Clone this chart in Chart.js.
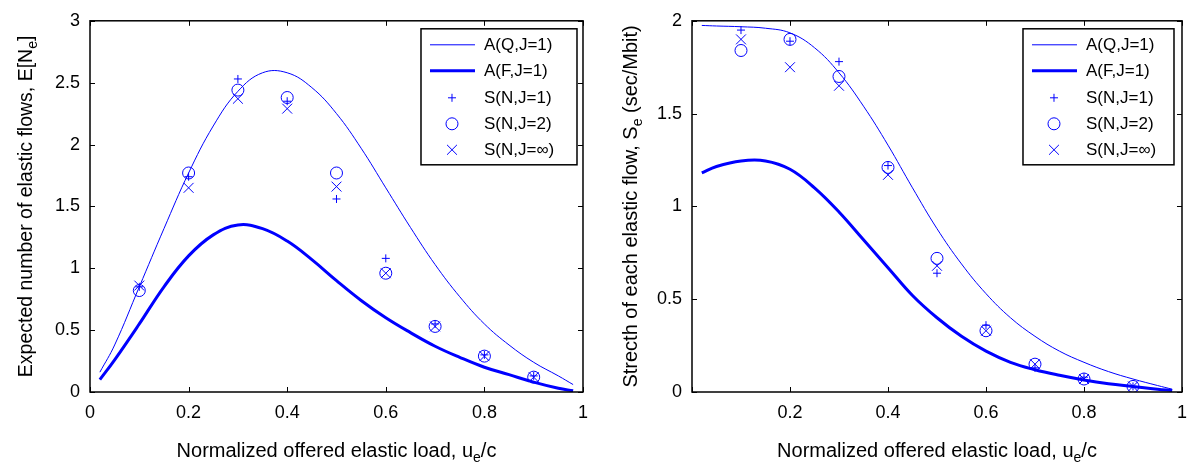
<!DOCTYPE html>
<html><head><meta charset="utf-8">
<script src="https://cdn.jsdelivr.net/npm/chart.js@4/dist/chart.umd.min.js"></script>
<style>
html,body{margin:0;padding:0;background:#fff;}
#wrap{position:relative;width:1197px;height:467px;overflow:hidden;}
#c1{position:absolute;left:0;top:0;}
#c2{position:absolute;left:598px;top:0;}
</style></head><body>
<div id="wrap"><canvas id="c1" width="598" height="467"></canvas><canvas id="c2" width="599" height="467"></canvas></div>
<script>
// ---------- data ----------
const loads = [0.1, 0.2, 0.3, 0.4, 0.5, 0.6, 0.7, 0.8, 0.9];
const curveLoads = [0.02,0.05,0.1,0.15,0.2,0.25,0.3,0.35,0.4,0.45,0.5,0.55,0.6,0.65,0.7,0.75,0.8,0.85,0.9,0.95,0.98];

// left panel: expected number of elastic flows
const flowsAQ = [0.16,0.38,0.85,1.32,1.77,2.15,2.43,2.58,2.58,2.46,2.25,1.97,1.65,1.33,1.03,0.77,0.55,0.38,0.24,0.13,0.06];
const flowsAF = [0.10,0.26,0.55,0.85,1.10,1.27,1.35,1.32,1.22,1.07,0.90,0.74,0.60,0.48,0.37,0.28,0.20,0.14,0.08,0.03,0.01];
const flowsSN1 = [0.85,1.74,2.53,2.35,1.56,1.08,0.55,0.30,0.13];
const flowsSN2 = [0.82,1.77,2.44,2.38,1.77,0.96,0.53,0.29,0.12];
const flowsSNinf = [0.86,1.65,2.37,2.29,1.66,0.96,0.53,0.29,0.12];

// right panel: stretch of each elastic flow
const stretchAQ = [1.975,1.972,1.968,1.96,1.935,1.855,1.72,1.54,1.33,1.10,0.88,0.69,0.53,0.40,0.30,0.22,0.16,0.11,0.07,0.035,0.015];
const stretchAF = [1.18,1.215,1.245,1.245,1.20,1.10,0.97,0.82,0.67,0.52,0.40,0.30,0.22,0.16,0.12,0.09,0.065,0.045,0.03,0.015,0.008];
const stretchSN1 = [1.95,1.89,1.78,1.22,0.64,0.36,0.13,0.08,0.03];
const stretchSN2 = [1.84,1.90,1.70,1.21,0.72,0.33,0.15,0.07,0.03];
const stretchSNinf = [1.90,1.75,1.65,1.17,0.68,0.33,0.15,0.07,0.03];

const seriesLabels = ['A(Q,J=1)', 'A(F,J=1)', 'S(N,J=1)', 'S(N,J=2)', 'S(N,J=\u221E)'];

const xTickValues = [0, 0.2, 0.4, 0.6, 0.8, 1];
const xTickLabelsLeft = ['0', '0.2', '0.4', '0.6', '0.8', '1'];
const xTickLabelsRight = ['', '0.2', '0.4', '0.6', '0.8', '1'];
const yTickValuesLeft = [0, 0.5, 1, 1.5, 2, 2.5, 3];
const yTickLabelsLeft = ['0', '0.5', '1', '1.5', '2', '2.5', '3'];
const yTickValuesRight = [0, 0.5, 1, 1.5, 2];
const yTickLabelsRight = ['0', '0.5', '1', '1.5', '2'];

const xTitle = [['Normalized offered elastic load, u', false], ['e', true], ['/c', false]];
const yTitleLeft = [['Expected number of elastic flows, E[N', false], ['e', true], [']', false]];
const yTitleRight = [['Strecth of each elastic flow, S', false], ['e', true], [' (sec/Mbit)', false]];

// ---------- helpers ----------
const BLUE = '#0000ff';
const FONT = "'Liberation Sans', Arial, Helvetica, sans-serif";

function pts(xs, ys) { return xs.map((x, i) => ({ x: x, y: ys[i] })); }

function drawRich(ctx, parts, size) {
  let total = 0;
  const subSize = Math.round(size * 0.72);
  parts.forEach(p => {
    ctx.font = (p[1] ? subSize : size) + 'px ' + FONT;
    total += ctx.measureText(p[0]).width;
  });
  let x = -total / 2;
  ctx.textBaseline = 'alphabetic';
  ctx.textAlign = 'left';
  parts.forEach(p => {
    ctx.font = (p[1] ? subSize : size) + 'px ' + FONT;
    ctx.fillText(p[0], x, p[1] ? size * 0.35 + 5 : size * 0.35);
    x += ctx.measureText(p[0]).width;
  });
}

function drawMarker(ctx, style, r, x, y) {
  ctx.beginPath();
  if (style === 'circle') {
    ctx.arc(x, y, r, 0, Math.PI * 2);
  } else if (style === 'cross') {
    ctx.moveTo(x - r, y); ctx.lineTo(x + r, y);
    ctx.moveTo(x, y - r); ctx.lineTo(x, y + r);
  } else if (style === 'crossRot') {
    const o = r * Math.SQRT1_2;
    ctx.moveTo(x - o, y - o); ctx.lineTo(x + o, y + o);
    ctx.moveTo(x - o, y + o); ctx.lineTo(x + o, y - o);
  }
  ctx.stroke();
}

const framePlugin = {
  id: 'frameDeco',
  afterDraw(chart) {
    const o = chart.options.plugins.frameDeco;
    const ctx = chart.ctx, a = chart.chartArea;
    const xs = chart.scales.x, ys = chart.scales.y;
    ctx.save();
    ctx.strokeStyle = '#000';
    ctx.lineWidth = 1;
    ctx.beginPath();
    xs.ticks.forEach(t => {
      const px = Math.round(xs.getPixelForValue(t.value)) + 0.5;
      ctx.moveTo(px, a.bottom); ctx.lineTo(px, a.bottom - 5);
      ctx.moveTo(px, a.top); ctx.lineTo(px, a.top + 5);
    });
    ys.ticks.forEach(t => {
      const py = Math.round(ys.getPixelForValue(t.value)) + 0.5;
      ctx.moveTo(a.left, py); ctx.lineTo(a.left + 5, py);
      ctx.moveTo(a.right, py); ctx.lineTo(a.right - 5, py);
    });
    ctx.stroke();
    ctx.lineWidth = 1.5;
    ctx.strokeRect(a.left, a.top, a.right - a.left, a.bottom - a.top);

    // legend box
    const lw = o.legendWidth, lh = 136;
    const lx = a.right - o.legendInset - lw, ly = a.top + 8;
    ctx.fillStyle = '#fff';
    ctx.fillRect(lx, ly, lw, lh);
    ctx.lineWidth = 1.5;
    ctx.strokeStyle = '#000';
    ctx.strokeRect(lx, ly, lw, lh);
    const rowY = [16, 42, 69, 95, 121];
    chart.data.datasets.forEach((ds, i) => {
      const cy = ly + rowY[i];
      ctx.strokeStyle = BLUE;
      ctx.lineWidth = ds.borderWidth;
      if (ds.showLine) {
        ctx.beginPath();
        ctx.moveTo(lx + 9, cy); ctx.lineTo(lx + 54, cy);
        ctx.stroke();
      } else {
        drawMarker(ctx, ds.pointStyle, ds.pointRadius, lx + 31, cy);
      }
      ctx.fillStyle = '#000';
      ctx.font = '17px ' + FONT;
      ctx.textAlign = 'left';
      ctx.textBaseline = 'middle';
      ctx.fillText(ds.label, lx + 63, cy + 1);
    });

    // axis titles
    ctx.fillStyle = '#000';
    ctx.save();
    ctx.translate((a.left + a.right) / 2, 450);
    drawRich(ctx, xTitle, 20);
    ctx.restore();
    ctx.save();
    ctx.translate(o.yTitleX, (a.top + a.bottom) / 2);
    ctx.rotate(-Math.PI / 2);
    drawRich(ctx, o.yTitle, o.yTitleSize);
    ctx.restore();
    ctx.restore();
  }
};

function lineDs(label, data, width) {
  return { label: label, data: pts(curveLoads, data), showLine: true, borderColor: BLUE,
    backgroundColor: BLUE, borderWidth: width, pointRadius: 0, pointHoverRadius: 0,
    tension: 0.4, order: 1 };
}
function pointDs(label, data, style, r) {
  return { label: label, data: pts(loads, data), showLine: false, borderColor: BLUE,
    backgroundColor: 'rgba(0,0,0,0)', borderWidth: 1, pointStyle: style, pointRadius: r,
    pointBorderWidth: 1, pointHoverRadius: r, order: 0 };
}

function makeChart(id, cfg) {
  return new Chart(document.getElementById(id), {
    type: 'scatter',
    data: { datasets: [
      lineDs(seriesLabels[0], cfg.aq, 1),
      lineDs(seriesLabels[1], cfg.af, 3),
      pointDs(seriesLabels[2], cfg.s1, 'cross', 4),
      pointDs(seriesLabels[3], cfg.s2, 'circle', 6),
      pointDs(seriesLabels[4], cfg.sinf, 'crossRot', 7)
    ]},
    options: {
      responsive: false, animation: false, events: [],
      layout: { padding: { top: 14, right: cfg.padRight, left: 0, bottom: 0 } },
      plugins: {
        legend: { display: false }, tooltip: { enabled: false },
        frameDeco: { legendWidth: cfg.legendWidth, legendInset: cfg.legendInset, yTitle: cfg.yTitle,
          yTitleX: cfg.yTitleX, yTitleSize: cfg.yTitleSize }
      },
      scales: {
        x: {
          type: 'linear', min: 0, max: 1,
          grid: { display: false, drawTicks: false }, border: { display: false },
          afterBuildTicks: s => { s.ticks = xTickValues.map(v => ({ value: v })); },
          afterFit: s => { s.height = 75; },
          ticks: { autoSkip: false, maxRotation: 0, padding: 10, color: '#000',
            font: { family: FONT, size: 18 }, callback: (v, i) => cfg.xLabels[i] }
        },
        y: {
          type: 'linear', min: 0, max: cfg.ymax,
          grid: { display: false, drawTicks: false }, border: { display: false },
          afterBuildTicks: s => { s.ticks = cfg.yValues.map(v => ({ value: v })); },
          afterFit: s => { s.width = cfg.yWidth; },
          ticks: { autoSkip: false, padding: 10, color: '#000',
            font: { family: FONT, size: 18 }, callback: (v, i) => cfg.yLabels[i] }
        }
      }
    },
    plugins: [framePlugin]
  });
}

makeChart('c1', { aq: flowsAQ, af: flowsAF, s1: flowsSN1, s2: flowsSN2, sinf: flowsSNinf,
  ymax: 3, yValues: yTickValuesLeft, yLabels: yTickLabelsLeft, xLabels: xTickLabelsLeft,
  padRight: 11, yWidth: 90, legendWidth: 156, legendInset: 6, yTitle: yTitleLeft, yTitleX: 25, yTitleSize: 19.5 });
makeChart('c2', { aq: stretchAQ, af: stretchAF, s1: stretchSN1, s2: stretchSN2, sinf: stretchSNinf,
  ymax: 2, yValues: yTickValuesRight, yLabels: yTickLabelsRight, xLabels: xTickLabelsRight,
  padRight: 6, yWidth: 94, legendWidth: 151, legendInset: 8, yTitle: yTitleRight, yTitleX: 32, yTitleSize: 20 });
</script>
</body></html>
